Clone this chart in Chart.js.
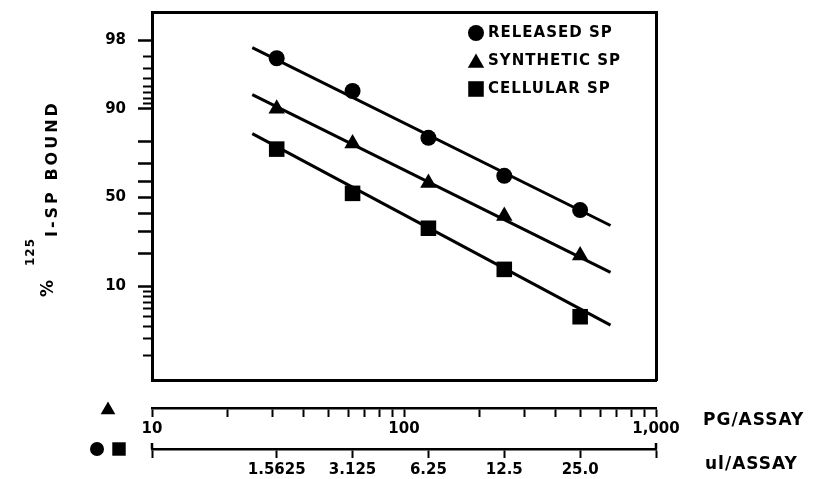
<!DOCTYPE html>
<html>
<head>
<meta charset="utf-8">
<script src="https://cdn.jsdelivr.net/npm/chart.js@4"></script>
<style>
  html, body { margin: 0; padding: 0; background: #fff; }
  canvas { display: block; }
</style>
</head>
<body>
<canvas id="chart" width="814" height="479"></canvas>
<script>
const seriesNames = ["RELEASED SP", "SYNTHETIC SP", "CELLULAR SP"];
const ulDoses = [1.5625, 3.125, 6.25, 12.5, 25.0];
const pgDoses = [31.25, 62.5, 125, 250, 500];
const released = [96.9, 93.3, 81.4, 63.1, 42.3];
const synthetic = [90.0, 79.2, 58.9, 38.8, 19.3];
const cellular = [76.8, 52.6, 31.9, 14.5, 5.0];
// fitted lines, value at each end
const ulFitEnds = [1.25, 33];
const pgFitEnds = [25, 660];
const releasedFit = [97.6, 33.4];
const syntheticFit = [92.7, 13.6];
const cellularFit = [82.9, 4.1];

const yLabelTicks = [98, 90, 50, 10];
const yLongTicks = [80, 70, 60, 40, 30, 20];
const yShortTicks = [97, 96, 95, 94, 93, 92, 91, 9, 8, 7, 6, 5, 4, 3, 2];
const yRange = [1.09, 98.99];
const pgTicks = [10, 20, 30, 40, 50, 60, 70, 80, 90, 100, 200, 300, 400, 500, 600, 700, 800, 900, 1000];
const pgLabels = { 10: "10", 100: "100", 1000: "1,000" };
const pgRange = [10, 1000];
const ulTicks = [0.5, 1.5625, 3.125, 6.25, 12.5, 25.0, 50];
const ulLabels = ["", "1.5625", "3.125", "6.25", "12.5", "25.0", ""];
const ulRange = [0.5, 50];
const yTitle = ["%", "125", "I-SP BOUND"];
const pgTitle = "PG/ASSAY";
const ulTitle = "ul/ASSAY";

// percent bound is plotted on a logit axis
const logit = (p) => Math.log(p / (100 - p));

const yTickList = [
  ...yLabelTicks.map((p) => ({ pct: p, kind: "label" })),
  ...yLongTicks.map((p) => ({ pct: p, kind: "long" })),
  ...yShortTicks.map((p) => ({ pct: p, kind: "short" })),
].sort((a, b) => a.pct - b.pct);

const FONT = '"DejaVu Sans", sans-serif';
Chart.defaults.font.family = FONT;
Chart.defaults.font.weight = "bold";
Chart.defaults.font.size = 15;
Chart.defaults.color = "#000";

const points = (xs, ys) => xs.map((x, i) => ({ x, y: logit(ys[i]) }));

const noPadding = (scale) => {
  scale.paddingTop = 0;
  scale.paddingBottom = 0;
  scale.paddingLeft = 0;
  scale.paddingRight = 0;
};

const frameAxis = (position, size) => ({
  type: "linear",
  position,
  min: 0,
  max: 1,
  ticks: { display: false },
  grid: { drawOnChartArea: false, drawTicks: false },
  border: { display: true, color: "#000", width: 3 },
  afterFit: (scale) => {
    if (scale.isHorizontal()) scale.height = size;
    else scale.width = size;
    noPadding(scale);
  },
});

const annotate = {
  id: "annotate",
  afterDraw(chart) {
    const ctx = chart.ctx;
    const area = chart.chartArea;
    const pg = chart.scales.x;
    const ul = chart.scales.ul;
    const drawPoint = Chart.helpers.drawPoint;
    ctx.save();
    ctx.fillStyle = "#000";
    ctx.strokeStyle = "#000";

    // legend in the upper right of the plot
    ctx.font = "bold 15px " + FONT;
    ctx.letterSpacing = "1px";
    ctx.textBaseline = "middle";
    ctx.textAlign = "left";
    seriesNames.forEach((name, i) => {
      const ds = chart.data.datasets[i];
      const y = area.top + 21 + i * 28;
      const dy = ds.pointStyle === "triangle" ? 2 : 0;
      drawPoint(ctx, { pointStyle: ds.pointStyle, radius: ds.pointRadius, rotation: 0, borderWidth: 0 }, area.left + 324, y + dy);
      ctx.fillText(name, area.left + 336, y);
    });

    // dose axis titles and keys
    ctx.font = "bold 17px " + FONT;
    ctx.fillText(pgTitle, pg.right + 47, pg.top + 13);
    ctx.fillText(ulTitle, ul.right + 49, ul.top + 16);
    drawPoint(ctx, { pointStyle: "triangle", radius: 8.5, rotation: 0, borderWidth: 0 }, area.left - 44, pg.top + 2);
    drawPoint(ctx, { pointStyle: "circle", radius: 7, rotation: 0, borderWidth: 0 }, area.left - 55, ul.top);
    drawPoint(ctx, { pointStyle: "rect", radius: 9.5, rotation: 0, borderWidth: 0 }, area.left - 33, ul.top);

    // end caps of the ul axis
    ctx.lineWidth = 2.5;
    [ul.left, ul.right].forEach((x) => {
      ctx.beginPath();
      ctx.moveTo(x, ul.top);
      ctx.lineTo(x, ul.top - 6);
      ctx.stroke();
    });

    // y title, rotated, with the superscript mass number
    ctx.translate(57, 297);
    ctx.rotate(-Math.PI / 2);
    ctx.textBaseline = "alphabetic";
    ctx.font = "bold 17px " + FONT;
    ctx.letterSpacing = "0px";
    ctx.fillText(yTitle[0], 0, -4);
    ctx.font = "bold 12px " + FONT;
    ctx.letterSpacing = "1px";
    ctx.fillText(yTitle[1], 31, -23);
    ctx.font = "bold 16px " + FONT;
    ctx.letterSpacing = "3px";
    ctx.fillText(yTitle[2], 60, 0);
    ctx.restore();
  },
};

new Chart(document.getElementById("chart"), {
  type: "scatter",
  data: {
    datasets: [
      {
        label: seriesNames[0],
        xAxisID: "ul",
        data: points(ulDoses, released),
        pointStyle: "circle",
        pointRadius: 8,
        backgroundColor: "#000",
        borderWidth: 0,
      },
      {
        label: seriesNames[1],
        xAxisID: "x",
        data: points(pgDoses, synthetic),
        pointStyle: "triangle",
        pointRadius: 9.5,
        backgroundColor: "#000",
        borderWidth: 0,
      },
      {
        label: seriesNames[2],
        xAxisID: "ul",
        data: points(ulDoses, cellular),
        pointStyle: "rect",
        pointRadius: 11,
        backgroundColor: "#000",
        borderWidth: 0,
      },
      {
        xAxisID: "ul",
        data: points(ulFitEnds, releasedFit),
        showLine: true,
        pointRadius: 0,
        borderColor: "#000",
        borderWidth: 3,
      },
      {
        xAxisID: "x",
        data: points(pgFitEnds, syntheticFit),
        showLine: true,
        pointRadius: 0,
        borderColor: "#000",
        borderWidth: 3,
      },
      {
        xAxisID: "ul",
        data: points(ulFitEnds, cellularFit),
        showLine: true,
        pointRadius: 0,
        borderColor: "#000",
        borderWidth: 3,
      },
    ],
  },
  options: {
    responsive: false,
    animation: false,
    events: [],
    layout: { padding: { top: 12, left: 0, right: 0, bottom: 0 } },
    plugins: { legend: { display: false }, tooltip: { enabled: false } },
    scales: {
      y: {
        type: "linear",
        position: "left",
        min: logit(yRange[0]),
        max: logit(yRange[1]),
        afterBuildTicks: (scale) => {
          scale.ticks = yTickList.map((t) => ({ value: logit(t.pct), pct: t.pct, kind: t.kind }));
        },
        afterFit: (scale) => {
          scale.width = 152;
          noPadding(scale);
        },
        ticks: {
          autoSkip: false,
          padding: 12,
          callback: (v, i, ticks) => (ticks[i].kind === "label" ? String(ticks[i].pct) : ""),
        },
        grid: {
          drawOnChartArea: false,
          tickLength: 14,
          tickColor: "#000",
          tickWidth: (c) => (c.tick && c.tick.kind === "short" ? 2 : 2.5),
          tickBorderDash: (c) => (c.tick && c.tick.kind === "short" ? [0, 5, 9, 100] : []),
        },
        border: { display: true, color: "#000", width: 3 },
      },
      yRight: frameAxis("right", 158),
      xTop: frameAxis("top", 0),
      xBox: Object.assign(frameAxis("bottom", 28), { weight: 0 }),
      x: {
        type: "logarithmic",
        position: "bottom",
        weight: 1,
        min: pgRange[0],
        max: pgRange[1],
        afterBuildTicks: (scale) => {
          scale.ticks = pgTicks.map((v) => ({ value: v }));
        },
        afterFit: (scale) => {
          scale.height = 41;
          noPadding(scale);
        },
        ticks: {
          autoSkip: false,
          maxRotation: 0,
          padding: 3,
          callback: (v) => pgLabels[v] || "",
        },
        grid: { drawOnChartArea: false, tickLength: 9, tickWidth: 2, tickColor: "#000" },
        border: { display: true, color: "#000", width: 2.5 },
      },
      ul: {
        type: "logarithmic",
        position: "bottom",
        weight: 2,
        min: ulRange[0],
        max: ulRange[1],
        afterBuildTicks: (scale) => {
          scale.ticks = ulTicks.map((v) => ({ value: v }));
        },
        afterFit: (scale) => {
          scale.height = 30;
          noPadding(scale);
        },
        ticks: {
          autoSkip: false,
          maxRotation: 0,
          padding: 3,
          callback: (v, i) => ulLabels[i],
        },
        grid: { drawOnChartArea: false, tickLength: 9, tickWidth: 2, tickColor: "#000" },
        border: { display: true, color: "#000", width: 2.5 },
      },
    },
  },
  plugins: [annotate],
});
</script>
</body>
</html>
